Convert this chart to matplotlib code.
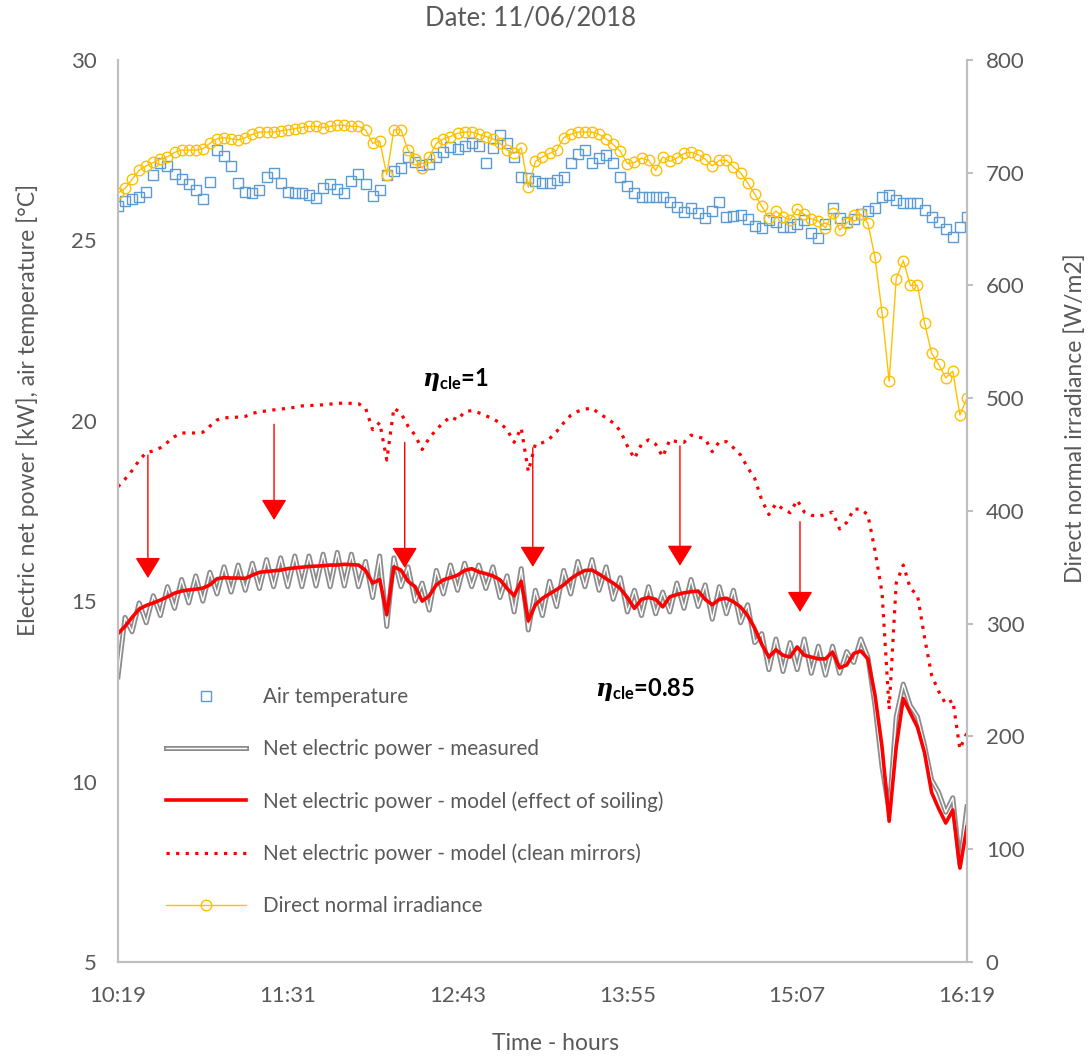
import numpy as np
import matplotlib
matplotlib.use('Agg')
import matplotlib.pyplot as plt
import matplotlib.patheffects as pe

plt.rcParams['font.family'] = ['Lato', 'DejaVu Sans']
plt.rcParams['mathtext.fontset'] = 'custom'
plt.rcParams['mathtext.it'] = 'DejaVu Serif:italic:bold'
plt.rcParams['mathtext.bf'] = 'Lato:bold'
plt.rcParams['mathtext.rm'] = 'Lato'

# time in minutes after 10:19, one reading every 3 minutes
minutes = np.arange(0, 361, 3)
tick_minutes = [0, 72, 144, 216, 288, 360]
tick_labels = ['10:19', '11:31', '12:43', '13:55', '15:07', '16:19']

air_temp = [25.95, 26.10, 26.15, 26.20, 26.34, 26.80, 27.15, 27.05, 26.85, 26.70,
            26.55, 26.40, 26.15, 26.62, 27.51, 27.35, 27.05, 26.59, 26.35, 26.30,
            26.40, 26.76, 26.87, 26.59, 26.35, 26.31, 26.31, 26.25, 26.17, 26.45,
            26.55, 26.42, 26.31, 26.65, 26.85, 26.55, 26.22, 26.40, 26.81, 26.92,
            27.00, 27.31, 27.18, 27.10, 27.12, 27.32, 27.45, 27.59, 27.53, 27.62,
            27.70, 27.62, 27.14, 27.55, 27.92, 27.70, 27.31, 26.76, 26.73, 26.65,
            26.59, 26.60, 26.68, 26.76, 27.15, 27.40, 27.51, 27.14, 27.28, 27.37,
            27.14, 26.76, 26.50, 26.30, 26.20, 26.20, 26.20, 26.20, 26.05, 25.92,
            25.78, 25.90, 25.75, 25.63, 25.80, 26.05, 25.65, 25.68, 25.70, 25.60,
            25.40, 25.35, 25.55, 25.50, 25.37, 25.37, 25.45, 25.55, 25.20, 25.05,
            25.45, 25.90, 25.62, 25.50, 25.60, 25.72, 25.80, 25.90, 26.20, 26.26,
            26.12, 26.03, 26.03, 26.03, 25.85, 25.65, 25.50, 25.32, 25.09, 25.37,
            25.65]

power_measured = [12.90, 14.55, 14.15, 14.95, 14.40, 15.15, 14.60, 15.40, 14.80, 15.60,
                  14.95, 15.70, 15.00, 15.80, 15.20, 15.95, 15.25, 16.00, 15.30, 16.05,
                  15.35, 16.15, 15.40, 16.20, 15.40, 16.25, 15.40, 16.25, 15.42, 16.30,
                  15.40, 16.35, 15.42, 16.30, 15.40, 16.10, 15.10, 16.25, 14.30, 16.20,
                  15.40, 15.95, 15.00, 15.50, 14.75, 15.85, 15.20, 16.00, 15.30, 16.05,
                  15.40, 16.00, 15.35, 15.95, 15.10, 15.70, 14.70, 15.90, 14.20, 15.30,
                  14.60, 15.55, 14.85, 15.85, 15.20, 16.10, 15.40, 16.15, 15.30, 15.95,
                  15.05, 15.65, 14.70, 15.30, 14.60, 15.40, 14.65, 15.25, 14.70, 15.50,
                  14.80, 15.60, 14.85, 15.45, 14.50, 15.40, 14.65, 15.30, 14.40, 14.90,
                  13.85, 14.10, 13.10, 13.95, 13.05, 13.85, 13.10, 13.95, 13.00, 13.75,
                  12.95, 13.75, 13.00, 13.60, 13.30, 13.95, 13.45, 12.10, 10.40, 9.20,
                  11.80, 12.70, 12.10, 11.80, 11.00, 10.05, 9.70, 9.15, 9.55, 7.70,
                  9.30]

power_soiled = [14.10, 14.30, 14.55, 14.78, 14.88, 14.95, 15.03, 15.12, 15.22, 15.28,
                15.31, 15.33, 15.36, 15.45, 15.62, 15.65, 15.64, 15.64, 15.63, 15.72,
                15.80, 15.82, 15.84, 15.86, 15.90, 15.92, 15.94, 15.96, 15.97, 15.98,
                16.00, 16.00, 16.02, 16.01, 16.00, 15.85, 15.50, 15.60, 14.62, 15.95,
                15.86, 15.55, 15.40, 15.00, 15.15, 15.45, 15.59, 15.65, 15.72, 15.85,
                15.90, 15.81, 15.76, 15.70, 15.59, 15.35, 15.15, 15.55, 14.45, 14.90,
                15.08, 15.20, 15.32, 15.45, 15.62, 15.75, 15.85, 15.86, 15.75, 15.62,
                15.50, 15.35, 15.10, 14.80, 15.05, 15.10, 15.05, 14.84, 15.12, 15.18,
                15.23, 15.26, 15.28, 15.05, 14.90, 15.05, 15.08, 14.98, 14.84, 14.60,
                14.25, 13.80, 13.45, 13.65, 13.50, 13.45, 13.73, 13.50, 13.45, 13.40,
                13.40, 13.59, 13.15, 13.23, 13.55, 13.62, 13.40, 12.40, 10.96, 8.90,
                10.96, 12.30, 11.90, 11.51, 10.80, 9.70, 9.25, 8.85, 9.21, 7.60,
                8.74]

power_clean = [18.17, 18.38, 18.62, 18.90, 19.12, 19.16, 19.25, 19.40, 19.56, 19.66,
               19.66, 19.66, 19.68, 19.85, 20.02, 20.08, 20.09, 20.10, 20.12, 20.20,
               20.25, 20.27, 20.30, 20.32, 20.35, 20.37, 20.41, 20.42, 20.43, 20.44,
               20.46, 20.48, 20.49, 20.48, 20.47, 20.35, 19.75, 19.95, 18.91, 20.35,
               20.21, 19.85, 19.60, 19.20, 19.52, 19.75, 19.95, 20.11, 20.02, 20.25,
               20.28, 20.22, 20.14, 20.05, 19.94, 19.75, 19.40, 19.80, 18.59, 19.35,
               19.39, 19.50, 19.70, 19.94, 20.15, 20.26, 20.32, 20.35, 20.20, 20.08,
               19.94, 19.72, 19.30, 18.95, 19.35, 19.47, 19.35, 19.00, 19.47, 19.42,
               19.40, 19.60, 19.55, 19.50, 19.14, 19.42, 19.42, 19.25, 19.05, 18.70,
               18.40, 17.80, 17.40, 17.70, 17.55, 17.45, 17.80, 17.47, 17.38, 17.35,
               17.40, 17.47, 17.00, 17.18, 17.55, 17.55, 17.39, 16.40, 15.23, 12.00,
               15.50, 16.00, 15.35, 15.17, 14.00, 12.95, 12.50, 12.15, 12.25, 10.90,
               11.35]

dni = [682, 686, 694, 702, 706, 709, 712, 714, 718, 720,
       720, 720, 721, 726, 730, 731, 730, 729, 731, 734,
       736, 736, 736, 737, 738, 739, 740, 741, 741, 740,
       741, 742, 742, 741, 741, 738, 726, 728, 698, 738,
       738, 720, 712, 704, 714, 726, 730, 732, 735, 736,
       736, 734, 732, 730, 726, 720, 717, 722, 687, 710,
       714, 717, 720, 731, 734, 736, 736, 736, 734, 730,
       725, 719, 708, 709, 713, 711, 702, 714, 710, 713,
       717, 718, 716, 712, 706, 711, 711, 705, 700, 691,
       681, 670, 660, 666, 661, 658, 668, 663, 659, 657,
       651, 664, 649, 655, 662, 663, 655, 625, 576, 515,
       606, 622, 600, 600, 567, 540, 530, 518, 524, 485,
       500]

# arrows from the clean-mirror curve down to the soiled model: (minute, from kW, to kW)
arrows = [(12.7, 19.05, 15.64), (66.2, 19.9, 17.25), (121.6, 19.4, 15.92),
          (175.9, 19.25, 15.95), (238.3, 19.3, 15.98), (289.2, 17.2, 14.7)]

grey = '#595959'
spine_col = '#BFBFBF'

fig = plt.figure(figsize=(10.92, 10.6), dpi=100)
ax1 = fig.add_axes([0.108, 0.0925, 0.7775, 0.851])
ax2 = ax1.twinx()

temp_line, = ax1.plot(minutes, air_temp, linestyle='none', marker='s', markersize=6.8,
                      markerfacecolor='none', markeredgecolor='#5B9BD5', markeredgewidth=1.0,
                      label='Air temperature')
meas_line, = ax1.plot(minutes, power_measured, color='white', lw=1.0,
                      path_effects=[pe.Stroke(linewidth=3.6, foreground='#8C8C8C'), pe.Normal()],
                      label='Net electric power - measured')
soil_line, = ax1.plot(minutes, power_soiled, color='#FF0000', lw=2.6,
                      label='Net electric power - model (effect of soiling)')
clean_line, = ax1.plot(minutes, power_clean, color='#FF0000', lw=2.3, linestyle=(0, (1, 2)),
                       label='Net electric power - model (clean mirrors)')
dni_line, = ax2.plot(minutes, dni, color='#FFC000', lw=1.0, marker='o', markersize=7.6,
                     markerfacecolor='none', markeredgecolor='#FFC000', markeredgewidth=1.0,
                     label='Direct normal irradiance')

for t, y0, y1 in arrows:
    ax1.annotate('', xy=(t, y1), xytext=(t, y0),
                 arrowprops=dict(arrowstyle='-|>,head_length=0.65,head_width=0.4',
                                 color='#FF0000', lw=1.0, mutation_scale=20,
                                 shrinkA=0, shrinkB=0))

ax1.text(143, 21.13, r'$\eta_{\mathbf{cle}}$=1', fontsize=17, fontweight='bold',
         ha='center', va='center', color='black')
ax1.text(223.5, 12.54, r'$\eta_{\mathbf{cle}}$=0.85', fontsize=17, fontweight='bold',
         ha='center', va='center', color='black')

ax1.set_xlim(0, 360)
ax1.set_ylim(5, 30)
ax2.set_ylim(0, 800)
ax1.set_xticks(tick_minutes)
ax1.set_xticklabels(tick_labels)
ax1.set_yticks([5, 10, 15, 20, 25, 30])
ax2.set_yticks(range(0, 801, 100))

ax1.spines['top'].set_visible(False)
ax2.spines['top'].set_visible(False)
for side in ['left', 'bottom', 'right']:
    for ax in (ax1, ax2):
        ax.spines[side].set_color(spine_col)
        ax.spines[side].set_linewidth(1.5)

ax1.tick_params(axis='x', length=0, pad=17, labelsize=16, labelcolor=grey)
ax1.tick_params(axis='y', length=0, pad=15, labelsize=16, labelcolor=grey)
ax2.tick_params(axis='y', length=4.5, width=1.5, color=spine_col, direction='out',
                pad=9, labelsize=16, labelcolor=grey)

fig.text(28 / 1092, 1 - 410 / 1060, 'Electric net power [kW], air temperature [°C]',
         fontsize=16.5, color=grey, rotation=90, ha='center', va='center')
fig.text(1075 / 1092, 1 - 418 / 1060, 'Direct normal irradiance [W/m2]',
         fontsize=16.5, color=grey, rotation=90, ha='center', va='center')
fig.text(555 / 1092, 1 - 1043 / 1060, 'Time - hours', fontsize=16.5, color=grey,
         ha='center', va='center')
fig.text(531 / 1092, 1 - 18 / 1060, 'Date: 11/06/2018', fontsize=18.5, color=grey,
         ha='center', va='center')

handles = [temp_line, meas_line, soil_line, clean_line, dni_line]
leg = ax2.legend(handles, [h.get_label() for h in handles], loc='upper left',
                 bbox_to_anchor=(0.057, 0.305), frameon=False, fontsize=14.9,
                 handlelength=3.85, handletextpad=0.8, labelspacing=1.55, borderpad=0,
                 borderaxespad=0)
for txt in leg.get_texts():
    txt.set_color(grey)

fig.savefig('out.png', dpi=100)
